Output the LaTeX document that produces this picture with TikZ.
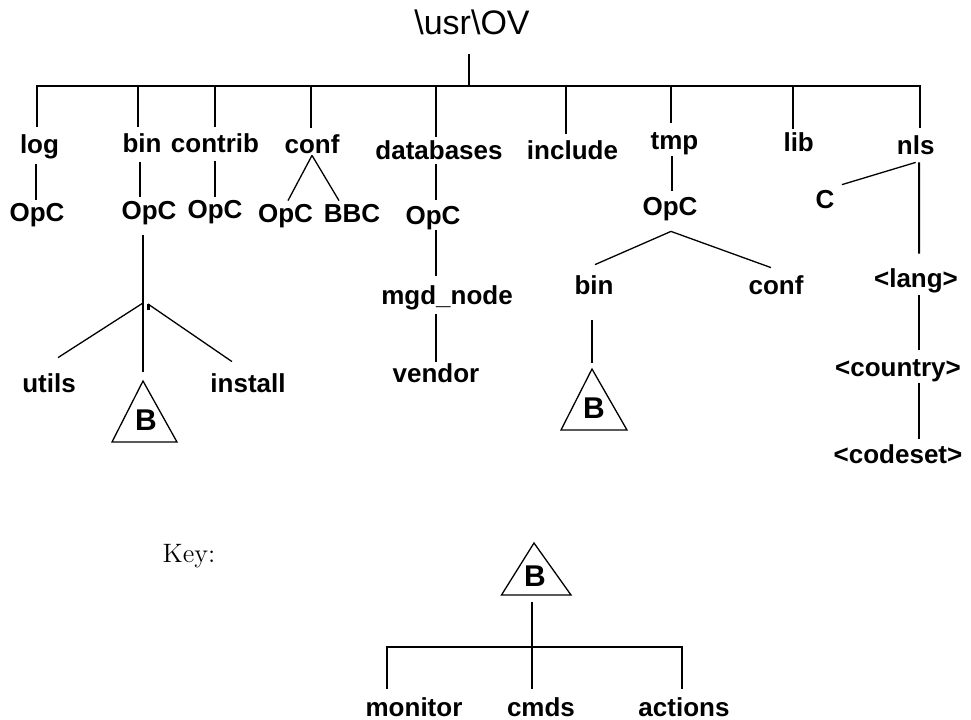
\documentclass[tikz,border=0pt]{standalone}
\usepackage{fontspec}
\setsansfont{Liberation Sans}
\tikzset{
	lbl/.style = {anchor=base, inner sep=0pt, text height=12.5pt, text depth=5pt, font=\sffamily\bfseries\fontsize{13}{15}\selectfont},
	up/.style = {text height=#1},
	dn/.style = {text depth=#1},
	letter/.style = {lbl, font=\sffamily\bfseries\fontsize{15}{17}\selectfont},
	link/.style = {line width=1pt},
	hair/.style = {line width=.65pt}
}
\begin{document}
\begin{tikzpicture}[x=.5pt, y=-.5pt]
	\useasboundingbox (0,0) rectangle (971,719);
	\node[anchor=base, inner sep=0pt, text depth=10pt, font=\sffamily\fontsize{17}{20}\selectfont] (root) at (472,34) {\textbackslash usr\textbackslash OV};
	\coordinate (trunk) at (469,86);
	\coordinate (binfan) at (143,303);
	\coordinate (binnub) at (148,304);
	\coordinate (keybar) at (532,647);

	\node[lbl,up=13pt,dn=5.5pt] (log) at (39.5,153) {log};
	\node[lbl,dn=5pt] (bin) at (142,152) {bin};
	\node[lbl,dn=4.5pt] (contrib) at (215,152) {contrib};
	\node[lbl,dn=1pt] (conf) at (312,153) {conf};
	\node[lbl,up=11pt,dn=2.5pt] (databases) at (439,159) {databases};
	\node[lbl] (include) at (572.5,159) {include};
	\node[lbl,up=13pt,dn=3.5pt] (tmp) at (674.5,149) {tmp};
	\node[lbl,up=11pt] (lib) at (798.7,151) {lib};
	\node[lbl,up=13pt,dn=4pt] (nls) at (915.7,154) {nls};

	\node[lbl,up=10.5pt] (logopc) at (37,221) {OpC};
	\node[lbl,up=11pt,dn=8pt] (binopc) at (149,219) {OpC};
	\node[lbl,up=10.5pt] (contribopc) at (215,218) {OpC};
	\node[lbl,up=10.5pt] (confopc) at (285.5,222) {OpC};
	\node[lbl,up=10.5pt] (confbbc) at (352,222) {BBC};
	\node[lbl,up=12pt,dn=3pt] (dbopc) at (433,224) {OpC};
	\node[lbl,up=14pt,dn=5pt] (mgd) at (447,304) {mgd\_node};
	\node[lbl,up=10pt] (vendor) at (436,382) {vendor};
	\node[lbl,up=12pt,dn=8pt] (tmpopc) at (670,215) {OpC};
	\node[lbl,up=14.5pt,dn=13pt] (tmpbin) at (594,294) {bin};
	\node[lbl,up=13pt] (tmpconf) at (776,294) {conf};
	\node[lbl,up=11.5pt] (nlsc) at (825,208) {C};
	\node[lbl,up=16.5pt,dn=4pt] (lang) at (916,287) {<lang>};
	\node[lbl,up=13pt,dn=3.5pt] (country) at (898,376) {<country>};
	\node[lbl,up=12pt] (codeset) at (898,463) {<codeset>};
	\node[lbl,up=17pt] (utils) at (49,392) {utils};
	\node[lbl,up=15pt] (install) at (248,392) {install};

	\node[letter,up=29pt] (binb) at (146,430) {B};
	\node[letter,up=27.5pt] (tmpb) at (594,418) {B};

	\node[anchor=base, inner sep=0pt, font=\fontsize{13.3}{16}\selectfont] (key) at (189,562) {Key:};
	\node[letter,dn=8pt] (keyb) at (535,586) {B};
	\node[lbl,up=13.5pt] (monitor) at (414,716) {monitor};
	\node[lbl,up=13.5pt] (cmds) at (541,716) {cmds};
	\node[lbl,up=13.5pt] (actions) at (684,716) {actions};

	\draw[link] ([xshift=-1.5pt]root.south) -- (trunk);
	\draw[link] ([xshift=-1.25pt]log.north) |- (trunk) -| ([xshift=2.15pt]nls.north);
	\draw[link] ([xshift=-2pt]bin.north) |- (trunk);
	\draw[link] (contrib.north) |- (trunk);
	\draw[link] ([xshift=-.5pt]conf.north) |- (trunk);
	\draw[link] ([xshift=-1.5pt]databases.north) |- (trunk);
	\draw[link] ([xshift=-3.25pt]include.north) |- (trunk);
	\draw[link] ([xshift=-1.75pt]tmp.north) |- (trunk);
	\draw[link] ([xshift=-2.85pt]lib.north) |- (trunk);

	\draw[link] ([xshift=-1.75pt]log.south) -- ([xshift=-.5pt]logopc.north);
	\draw[link] ([xshift=-1pt]bin.south) -- ([xshift=-4.5pt]binopc.north);
	\draw[link] (contrib.south) -- (contribopc.north);
	\draw[hair] (conf.south) -- ([xshift=1.25pt]confopc.north);
	\draw[hair] (conf.south) -- ([xshift=-6.5pt]confbbc.north);
	\draw[link] ([xshift=-1.5pt]databases.south) -- ([xshift=1.5pt]dbopc.north);
	\draw[link] ([xshift=1.5pt]dbopc.south) -- ([xshift=-5.5pt]mgd.north);
	\draw[link] ([xshift=-5.5pt]mgd.south) -- (vendor.north);

	\draw[hair] ([xshift=-3pt]binopc.south) -- (binfan);
	\draw[hair] (binfan) -- ([xshift=4.5pt]utils.north);
	\draw[link] (binfan) -- ([xshift=-1.5pt]binb.north);
	\draw[hair] (binnub) -- ([xshift=-8pt]install.north);
	\draw[line width=1.5pt] (binnub) -- ([yshift=-3pt]binnub);
	\draw[hair] ([shift={(-3,-49)}]binb.base) -- ([shift={(-34,12)}]binb.base) -- ([shift={(31,12)}]binb.base) -- cycle;

	\draw[link] ([xshift=-1.25pt]tmp.south) -- ([xshift=1pt]tmpopc.north);
	\draw[hair] ([xshift=.5pt]tmpopc.south) -- ([xshift=.5pt]tmpbin.north);
	\draw[hair] ([xshift=.5pt]tmpopc.south) -- ([xshift=-2.5pt]tmpconf.north);
	\draw[link] ([xshift=-1pt]tmpbin.south) -- ([xshift=-1pt]tmpb.north);
	\draw[hair] ([shift={(-2,-49)}]tmpb.base) -- ([shift={(-33,12)}]tmpb.base) -- ([shift={(33,12)}]tmpb.base) -- cycle;

	\draw[hair] (nls.south) -- ([xshift=8.5pt]nlsc.north);
	\draw[link] ([xshift=1.65pt]nls.south) -- ([xshift=1.5pt]lang.north);
	\draw[link] ([xshift=1.5pt]lang.south) -- ([xshift=10.5pt]country.north);
	\draw[link] ([xshift=10.5pt]country.south) -- ([xshift=10.5pt]codeset.north);

	\draw[hair] ([shift={(-1,-43)}]keyb.base) -- ([shift={(-33.5,9)}]keyb.base) -- ([shift={(36,9)}]keyb.base) -- cycle;
	\draw[link] ([xshift=-1.5pt]keyb.south) -- ([xshift=-4.5pt]cmds.north);
	\draw[link] ([xshift=-13.5pt]monitor.north) |- (keybar) -| ([xshift=-1pt]actions.north);
\end{tikzpicture}
\end{document}
